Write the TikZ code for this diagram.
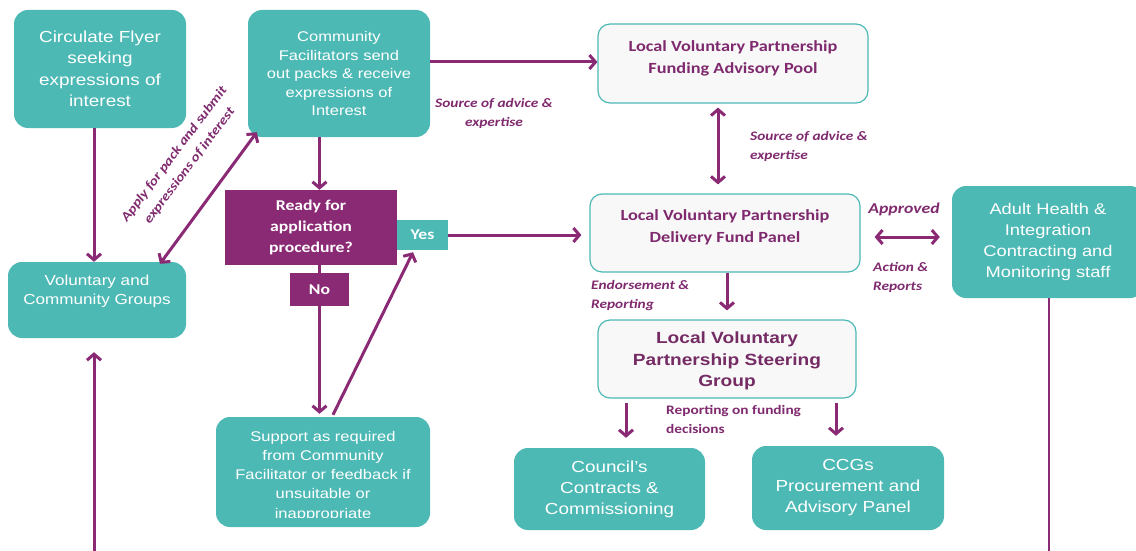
\documentclass[tikz,border=0pt]{standalone}
\usepackage{fontspec}
\setmainfont{Liberation Sans}[FakeStretch=1.18]
\newfontfamily\calfont{Carlito}[FakeStretch=1.18]
\usetikzlibrary{arrows.meta}

\definecolor{tealc}{HTML}{4DB9B5}
\definecolor{plum}{HTML}{8B2A74}
\definecolor{plumtext}{HTML}{7F2A6E}
\definecolor{steertext}{HTML}{752B63}
\definecolor{paleface}{HTML}{F8F8F8}

\tikzset{
  tbox/.style={fill=tealc, rounded corners=14pt, text=white, align=center, inner sep=0pt},
  lbox/.style={draw=tealc, line width=1.2pt, fill=paleface, rounded corners=12pt, inner sep=0pt},
  pbox/.style={fill=plum, text=white, align=center, inner sep=0pt,
               font=\calfont\bfseries\fontsize{15}{21}\selectfont},
  btext/.style={align=center, inner sep=0pt},
  tip/.tip={Straight Barb[length=6pt,width=14pt]},
  arr/.style={draw=plum, line width=3pt, -tip},
  darr/.style={draw=plum, line width=3pt, tip-tip},
  plain/.style={draw=plum, line width=3pt},
  lab/.style={text=plumtext, inner sep=0pt,
              font=\calfont\bfseries\itshape\fontsize{13}{19}\selectfont},
  labup/.style={text=plumtext, inner sep=0pt,
              font=\calfont\bfseries\fontsize{13}{19}\selectfont},
}

\begin{document}
\begin{tikzpicture}[x=1pt,y=-1pt]
\useasboundingbox (0,0) rectangle (1136,551);

% ---- left column ----
\node[tbox, minimum width=172pt, minimum height=118pt,
      font=\fontsize{16}{21.5}\selectfont] (flyer) at (100,69)
  {Circulate Flyer\\seeking\\expressions of\\interest};

\node[tbox, minimum width=178pt, minimum height=76pt] (groups) at (97,300) {};
\node[btext, text=white, font=\fontsize{14.5}{18.5}\selectfont] (groupsT) at (97,291)
  {Voluntary and\\Community Groups};

\node[tbox, minimum width=182pt, minimum height=127pt,
      font=\fontsize{14}{18.5}\selectfont] (facil) at (339,73.5)
  {Community\\Facilitators send\\out packs \& receive\\expressions of\\Interest};

% ---- decision ----
\node[pbox, minimum width=172pt, minimum height=75pt] (ready) at (311,227.5)
  {Ready for\\application\\procedure?};
\node[pbox, fill=tealc, minimum width=51pt, minimum height=30pt] (yes) at (422.5,235) {Yes};
\node[pbox, minimum width=59pt, minimum height=33pt] (no) at (319.5,289.5) {No};

\node[tbox, minimum width=214pt, minimum height=110pt] (support) at (323,472) {};
\begin{scope}
  \clip (216,417) rectangle (430,517);
  \node[btext, text=white, font=\fontsize{14}{19.2}\selectfont] (supportT) at (323,476)
    {Support as required\\from Community\\Facilitator or feedback if\\unsuitable or\\inappropriate};
\end{scope}

% ---- partnership boxes ----
\node[lbox, minimum width=270pt, minimum height=79pt] (pool) at (733,63.5) {};
\node[btext, text=plumtext, font=\calfont\bfseries\fontsize{15.5}{22}\selectfont] (poolT) at (733,58)
  {Local Voluntary Partnership\\Funding Advisory Pool};

\node[lbox, minimum width=270pt, minimum height=78pt] (panel) at (725,233) {};
\node[btext, text=plumtext, font=\calfont\bfseries\fontsize{15.5}{22}\selectfont] (panelT) at (725,227)
  {Local Voluntary Partnership\\Delivery Fund Panel};

\node[lbox, minimum width=258pt, minimum height=78pt] (steer) at (727,359) {};
\node[btext, text=steertext, font=\bfseries\fontsize{16.2}{21.5}\selectfont] (steerT) at (727,361)
  {Local Voluntary\\Partnership Steering\\Group};

\node[tbox, minimum width=191pt, minimum height=82pt,
      font=\fontsize{16}{21}\selectfont] (council) at (609.5,489)
  {Council's\\Contracts \&\\Commissioning};
\node[tbox, minimum width=192pt, minimum height=84pt,
      font=\fontsize{16}{21}\selectfont] (ccg) at (848,488)
  {CCGs\\Procurement and\\Advisory Panel};

\node[tbox, minimum width=192pt, minimum height=112pt,
      font=\fontsize{15.5}{21.3}\selectfont] (adult) at (1048,242)
  {Adult Health \&\\Integration\\Contracting and\\Monitoring staff};

% ---- free ends ----
\coordinate (groupsIn) at (94,551);
\coordinate (adultOut) at (1049,551);

% ---- connectors ----
\draw[arr] ([xshift=-6pt]flyer.south) -- ([xshift=-3pt]groups.north);
\draw[arr] (groupsIn) -- ([xshift=-3pt,yshift=-14pt]groups.south);
\draw[darr] ([xshift=63pt,yshift=-2pt]groups.north) -- ([xshift=9pt,yshift=5pt]facil.south west);
\draw[arr] (facil.south -| no.north) -- (ready.north -| no.north);
\draw[arr] (facil.east |- 0,62) -- (pool.west |- 0,62);
\draw[plain] (ready.south -| no.north) -- (no.north);
\draw[arr] (no.south) -- ([yshift=3pt]support.north -| no.south);
\draw[arr] ([xshift=10pt,yshift=2pt]support.north) -- ([xshift=-9.5pt,yshift=-2pt]yes.south);
\draw[arr] (yes.east) -- ([xshift=-8pt]panel.west |- yes.east);
\draw[darr] ([xshift=-15pt,yshift=-4pt]pool.south) -- ([xshift=-7pt,yshift=9pt]panel.north);
\draw[arr] (steer.north |- panel.south) -- ([yshift=9pt]steer.north);
\draw[darr] ([xshift=14pt,yshift=-4pt]panel.east) -- ([xshift=-12pt,yshift=-4pt]adult.west |- panel.east);
\draw[arr] ([yshift=-4pt]steer.south -| 626,0) -- ([yshift=10pt]council.north -| 626,0);
\draw[arr] ([yshift=-4pt]steer.south -| 836,0) -- ([yshift=10pt]ccg.north -| 836,0);
\draw[draw=plum, line width=2.5pt] (adult.south -| adultOut) -- (adultOut);

% ---- connector labels ----
\node[lab, align=center, rotate=53] (applyL) at (182,160)
  {Apply for pack and submit\\expressions of interest};
\node[lab, align=center] (adviceL1) at (494,113) {Source of advice \&\\expertise};
\node[lab, align=left, anchor=west] (adviceL2) at (750,146) {Source of advice \&\\expertise};
\node[lab, font=\calfont\bfseries\itshape\fontsize{15}{19}\selectfont] (approvedL) at (904,209) {Approved};
\node[lab, align=left, anchor=west] (actionL) at (873,277.5) {Action \&\\Reports};
\node[lab, align=left, anchor=west] (endorseL) at (591,296) {Endorsement \&\\Reporting};
\node[labup, align=left, anchor=west] (reportL) at (666,419.5) {Reporting on funding\\decisions};

\end{tikzpicture}
\end{document}
